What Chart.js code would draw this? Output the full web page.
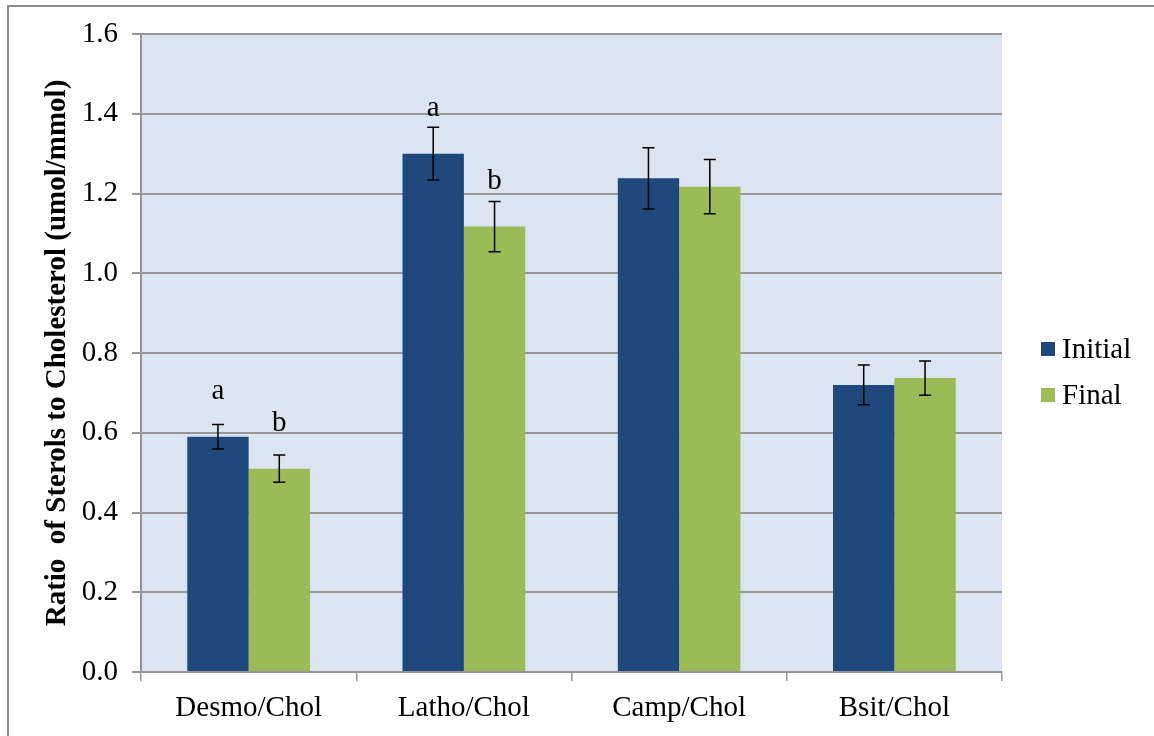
<!DOCTYPE html>
<html>
<head>
<meta charset="utf-8">
<script src="https://cdn.jsdelivr.net/npm/chart.js@4/dist/chart.umd.min.js"></script>
<style>
  html, body { margin: 0; padding: 0; background: #ffffff; }
  #frame { position: absolute; left: 7px; top: 5px; width: 2000px; height: 2000px;
           border-left: 2px solid #8c8c8c; border-top: 2px solid #8c8c8c; }
  #wrap { position: absolute; left: 0; top: 0; width: 1154px; height: 736px; }
</style>
</head>
<body>
<div id="frame"></div>
<div id="wrap"><canvas id="chart" width="1154" height="736"></canvas></div>
<script>
// Sterol ratios, initial vs final, with standard errors
const categories = ['Desmo/Chol', 'Latho/Chol', 'Camp/Chol', 'Bsit/Chol'];
const initialValues = [0.59, 1.30, 1.238, 0.72];
const initialErrors = [0.031, 0.066, 0.077, 0.05];
const finalValues = [0.51, 1.117, 1.217, 0.737];
const finalErrors = [0.034, 0.063, 0.068, 0.043];
// significance letters shown above the bars
const initialLetters = ['a', 'a', '', ''];
const finalLetters = ['b', 'b', '', ''];
const yTicks = [0.0, 0.2, 0.4, 0.6, 0.8, 1.0, 1.2, 1.4, 1.6];

const FONT = 'Liberation Serif';
const GRID = '#969696';

const plotBackground = {
  id: 'plotBackground',
  beforeDraw(chart) {
    const { ctx, chartArea: a } = chart;
    ctx.save();
    ctx.fillStyle = '#dbe5f1';
    ctx.fillRect(a.left, a.top, a.right - a.left, a.bottom - a.top);
    ctx.restore();
  }
};

const errorBarsAndLetters = {
  id: 'errorBarsAndLetters',
  afterDatasetsDraw(chart) {
    const { ctx } = chart;
    const y = chart.scales.y;
    chart.data.datasets.forEach((ds, di) => {
      const meta = chart.getDatasetMeta(di);
      meta.data.forEach((bar, i) => {
        const v = ds.data[i], e = ds.errors[i];
        const yTop = y.getPixelForValue(v + e);
        const yBot = y.getPixelForValue(v - e);
        ctx.save();
        ctx.strokeStyle = '#000000';
        ctx.lineWidth = 1.5;
        ctx.beginPath();
        ctx.moveTo(bar.x, yTop); ctx.lineTo(bar.x, yBot);
        ctx.moveTo(bar.x - 6, yTop); ctx.lineTo(bar.x + 6, yTop);
        ctx.moveTo(bar.x - 6, yBot); ctx.lineTo(bar.x + 6, yBot);
        ctx.stroke();
        const letter = ds.letters[i];
        if (letter) {
          ctx.fillStyle = '#000000';
          ctx.font = '29px "' + FONT + '"';
          ctx.textAlign = 'center';
          ctx.textBaseline = 'alphabetic';
          ctx.fillText(letter, bar.x, y.getPixelForValue(v + 0.095));
        }
        ctx.restore();
      });
    });
  }
};

const sideLegend = {
  id: 'sideLegend',
  afterDraw(chart) {
    const { ctx } = chart;
    const rows = [349, 395];
    chart.data.datasets.forEach((ds, di) => {
      const cy = rows[di];
      ctx.save();
      ctx.fillStyle = ds.backgroundColor;
      ctx.fillRect(1041, cy - 7, 14, 14);
      ctx.fillStyle = '#000000';
      ctx.font = '29px "' + FONT + '"';
      ctx.textAlign = 'left';
      ctx.textBaseline = 'middle';
      ctx.fillText(ds.label, 1062, cy + 1);
      ctx.restore();
    });
  }
};

new Chart(document.getElementById('chart'), {
  type: 'bar',
  data: {
    labels: categories,
    datasets: [
      { label: 'Initial', data: initialValues, errors: initialErrors, letters: initialLetters,
        backgroundColor: '#1f497d' },
      { label: 'Final', data: finalValues, errors: finalErrors, letters: finalLetters,
        backgroundColor: '#9bbb59' }
    ]
  },
  options: {
    responsive: false,
    animation: false,
    events: [],
    categoryPercentage: 0.57,
    barPercentage: 1.0,
    layout: { padding: { left: 20, right: 152, top: 34, bottom: 0 } },
    plugins: {
      legend: { display: false },
      tooltip: { enabled: false }
    },
    scales: {
      x: {
        afterFit(scale) { scale.height = 64; },
        grid: { display: true, drawOnChartArea: false, drawTicks: true, tickLength: 9,
                color: GRID, lineWidth: 1.5, offset: true },
        border: { display: true, color: GRID, width: 2 },
        ticks: { color: '#000000', font: { family: FONT, size: 29 }, padding: 10 }
      },
      y: {
        min: 0, max: 1.6,
        afterFit(scale) { scale.width = 121; },
        afterBuildTicks(scale) { scale.ticks = yTicks.map(v => ({ value: v })); },
        grid: { color: GRID, lineWidth: 2, tickLength: 9, drawTicks: true },
        border: { display: true, color: GRID, width: 2 },
        ticks: { color: '#000000', font: { family: FONT, size: 29 }, padding: 14,
                 callback: v => Number(v).toFixed(1) },
        title: { display: true, text: 'Ratio  of Sterols to Cholesterol (umol/mmol)',
                 color: '#000000', font: { family: FONT, size: 29, weight: 'bold' },
                 padding: { top: 20, bottom: 0 } }
      }
    }
  },
  plugins: [plotBackground, errorBarsAndLetters, sideLegend]
});
</script>
</body>
</html>
